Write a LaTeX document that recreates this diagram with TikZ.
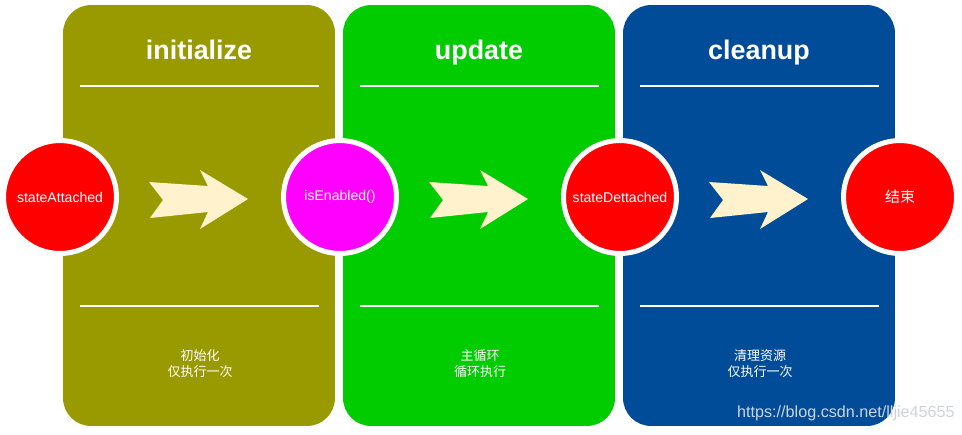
\documentclass[tikz,border=0pt]{standalone}
\usepackage{fontspec}
\setmainfont{Liberation Sans}
\newfontfamily\cjk{Noto Sans CJK SC}
\usetikzlibrary{positioning}
\definecolor{myolive}{RGB}{153,153,0}
\definecolor{mygreen}{RGB}{0,204,0}
\definecolor{myblue}{RGB}{0,76,153}
\definecolor{myred}{RGB}{255,0,0}
\definecolor{mymagenta}{RGB}{255,0,255}
\definecolor{mycream}{RGB}{255,242,204}
\definecolor{mymark}{RGB}{205,212,222}
\tikzset{
  panel/.style={rectangle, rounded corners=0.56cm, minimum width=5.44cm,
    minimum height=8.42cm, inner sep=0pt},
  stage/.style={circle, draw=white, line width=0.1cm, minimum size=2.26cm,
    inner sep=0pt, text=white, font=\fontsize{8}{10}\selectfont},
  title/.style={text=white, anchor=base, font=\fontsize{15.3}{18}\selectfont\bfseries},
  note/.style={text=white, align=center, font=\cjk\fontsize{7.4}{9.1}\selectfont},
  sepline/.style={white, line width=1.1pt},
  chev/.style={fill=mycream, draw=none}
}
\begin{document}
\begin{tikzpicture}[x=0.02cm, y=-0.02cm]
  \useasboundingbox (0,0) rectangle (962,434);
  % phases
  \node[panel, fill=myolive] (init) at (199,215.5) {};
  \node[panel, fill=mygreen] (upd) at (479,215.5) {};
  \node[panel, fill=myblue] (clean) at (759,215.5) {};
  \node[title] (initt) at (199,59) {initialize};
  \node[title] (updt) at (479,59) {update};
  \node[title] (cleant) at (759,59) {cleanup};
  \draw[sepline] (80,86) -- (319,86);
  \draw[sepline] (80,306) -- (319,306);
  \draw[sepline] (360,86) -- (599,86);
  \draw[sepline] (360,306) -- (599,306);
  \draw[sepline] (640,86) -- (879,86);
  \draw[sepline] (640,306) -- (879,306);
  \node[note] (initn) at (200,364) {初始化\\仅执行一次};
  \node[note] (updn) at (480,364) {主循环\\循环执行};
  \node[note] (cleann) at (760,364) {清理资源\\仅执行一次};
  % arrows
  \fill[chev] (149,182) -- (208,186) -- (200,170) -- (248,199) -- (200,229)
    -- (208,212) -- (150,218) -- (163,200) -- cycle;
  \fill[chev, shift={(280,0)}] (149,182) -- (208,186) -- (200,170) -- (248,199)
    -- (200,229) -- (208,212) -- (150,218) -- (163,200) -- cycle;
  \fill[chev, shift={(560,0)}] (149,182) -- (208,186) -- (200,170) -- (248,199)
    -- (200,229) -- (208,212) -- (150,218) -- (163,200) -- cycle;
  % states
  \node[stage, fill=myred] (attached) at (60,197) {stateAttached};
  \node[stage, fill=mymagenta] (enabled) at (340,197) {isEnabled()};
  \node[stage, fill=myred] (detached) at (620,197) {stateDettached};
  \node[stage, fill=myred, font=\cjk\fontsize{8.5}{10}\selectfont] (done) at (900,197) {结束};
  \node[text=mymark, anchor=east, inner sep=0pt, font=\fontsize{9.2}{11}\selectfont] (mark) at (955,413)
    {https://blog.csdn.net/lljie45655};
\end{tikzpicture}
\end{document}
